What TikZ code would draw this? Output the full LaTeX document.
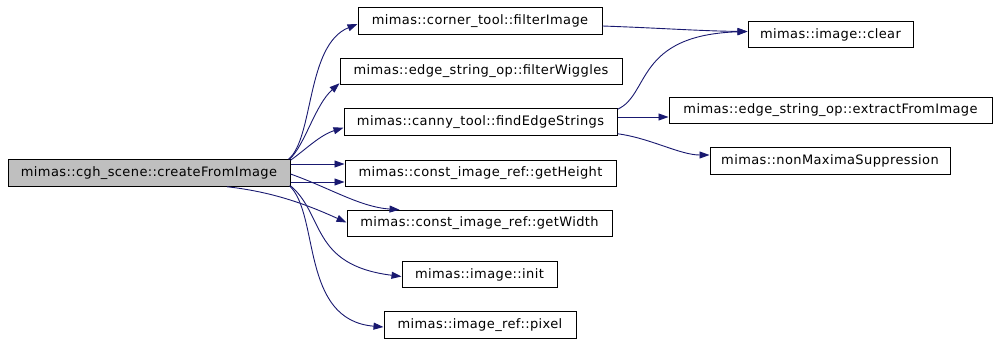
\documentclass[tikz,border=0pt]{standalone}
\usepackage{fontspec}
\setmainfont[LetterSpace=3]{DejaVu Sans}
\usetikzlibrary{arrows.meta,calc}
\definecolor{edgeblue}{HTML}{191970}
\definecolor{boxgray}{HTML}{BFBFBF}
\tikzset{
  fn/.style={draw=black, line width=1pt, rectangle, inner sep=0pt, minimum height=26.5pt, font=\fontsize{13pt}{15pt}\selectfont},
  call/.style={draw=edgeblue, line width=0.9pt, -{Triangle[length=10pt,width=7pt]}}
}
\begin{document}
\begin{tikzpicture}[x=1pt,y=-1pt]
\useasboundingbox (0,0) rectangle (999,346);
\node[fn, fill=boxgray, minimum width=282pt] (cfi) at (149,173) {mimas::cgh\_scene::createFromImage};
\node[fn, minimum width=244pt] (fi) at (480,21) {mimas::corner\_tool::filterImage};
\node[fn, minimum width=282pt] (fw) at (481,71.5) {mimas::edge\_string\_op::filterWiggles};
\node[fn, minimum width=273pt] (fes) at (480.5,122) {mimas::canny\_tool::findEdgeStrings};
\node[fn, minimum width=271pt] (gh) at (480.5,173.5) {mimas::const\_image\_ref::getHeight};
\node[fn, minimum width=265pt] (gw) at (479.5,223.5) {mimas::const\_image\_ref::getWidth};
\node[fn, minimum width=155pt] (ini) at (479.5,274.5) {mimas::image::init};
\node[fn, minimum width=192pt] (pix) at (480,325) {mimas::image\_ref::pixel};
\node[fn, minimum width=165pt] (clr) at (830.5,34.5) {mimas::image::clear};
\node[fn, minimum width=323pt] (efi) at (830.5,110.5) {mimas::edge\_string\_op::extractFromImage};
\node[fn, minimum width=240pt] (nms) at (830,161) {mimas::nonMaximaSuppression};
\coordinate (d1) at ($(cfi.east)+(0,-9)$);
\coordinate (d2) at ($(cfi.east)+(0,9)$);
\coordinate (d3) at ($(fes.east)+(0,-5)$);
% edges from createFromImage
\draw[call] ($(cfi.north east)+(-2,0)$) .. controls (314,138) and (306,45) .. ($(fi.west)+(0,3)$);
\draw[call] ($(cfi.north east)+(-1,0)$) .. controls (305,145) and (315,105) .. ($(fw.south west)+(0,-2)$);
\draw[call] ($(cfi.north east)+(0,1)$) .. controls (305,150) and (320,135) .. ($(fes.south west)+(0,-8)$);
\draw[call] (d1) -- (d1 -| gh.west);
\draw[call] (d2) -- (d2 -| gh.west);
\draw[call] ($(cfi.east)+(0,1)$) .. controls (330,188) and (360,207) .. ($(gw.north west)+(53,0)$);
\draw[call] ($(cfi.south)+(78,0)$) .. controls (275,192) and (310,206) .. ($(gw.west)+(0,-1)$);
\draw[call] ($(cfi.south east)+(0,-1)$) .. controls (325,215) and (310,265) .. ($(ini.west)+(0,2)$);
\draw[call] ($(cfi.south east)+(-1,-1)$) .. controls (320,215) and (300,320) .. ($(pix.west)+(0,2)$);
% edges to the right
\draw[call] ($(fi.east)+(0,5)$) .. controls (660,28) and (700,31) .. ($(clr.west)+(0,-3)$);
\draw[call] ($(fes.north east)+(0,1)$) .. controls (650,95) and (635,35) .. ($(clr.west)+(0,-3)$);
\draw[call] (d3) -- (d3 -| efi.west);
\draw[call] ($(fes.south east)+(0,-2)$) .. controls (650,138) and (680,155) .. ($(nms.west)+(0,-6)$);
\end{tikzpicture}
\end{document}
